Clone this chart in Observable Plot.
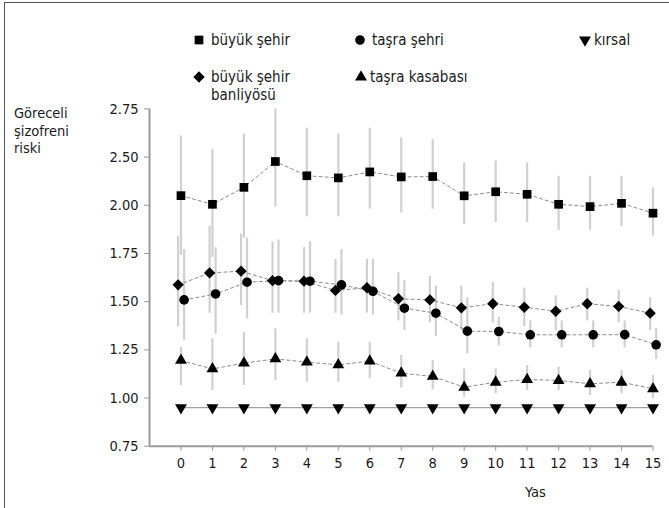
<!DOCTYPE html>
<html>
<head>
<meta charset="utf-8">
<script src="https://cdn.jsdelivr.net/npm/d3@7"></script>
<script src="https://cdn.jsdelivr.net/npm/@observablehq/plot@0.6"></script>
<style>
  body { margin: 0; background: #fff; }
  #wrap { position: relative; width: 669px; height: 508px; overflow: hidden; background: #fff;
          font-family: "Liberation Sans Narrow", "DejaVu Sans Condensed", "Roboto", sans-serif; color: #1a1a1a; }
  #frame { position: absolute; left: 4px; top: 2px; width: 700px; height: 600px;
           border-left: 1.5px solid #555; border-top: 1.5px solid #555; pointer-events: none; }
  #chart { position: absolute; left: 0; top: 0; }
  .lg { position: absolute; font-size: 15px; line-height: 18px; display: flex; align-items: flex-start; white-space: nowrap; }
  .lg svg { flex: none; }
  #ylab { position: absolute; left: 14px; top: 105px; font-size: 14.5px; line-height: 17.5px; }
  #xlab { position: absolute; left: 525px; top: 484px; font-size: 14.5px; }
</style>
</head>
<body>
<div id="wrap">
  <div id="chart"></div>
  <div id="legend"></div>
  <div id="ylab">Göreceli<br>şizofreni<br>riski</div>
  <div id="xlab">Yas</div>
  <div id="frame"></div>
</div>
<script>
// ---- data ----
const ages = [0, 1, 2, 3, 4, 5, 6, 7, 8, 9, 10, 11, 12, 13, 14, 15];
const yTicks = [0.75, 1, 1.25, 1.5, 1.75, 2, 2.25, 2.5];
const yTickLabels = ["0.75", "1.00", "1.25", "1.50", "1.75", "2.00", "2.50", "2.75"];

const seriesNames = ["büyük şehir", "taşra şehri", "kırsal", "büyük şehir banliyösü", "taşra kasabası"];

const buyukSehir   = [2.05, 2.005, 2.093, 2.227, 2.153, 2.142, 2.173, 2.147, 2.149, 2.049, 2.07, 2.057, 2.005, 1.993, 2.01, 1.959];
const buyukSehirLo = [1.74, 1.73, 1.83, 1.99, 1.94, 1.94, 1.98, 1.96, 1.98, 1.90, 1.91, 1.91, 1.87, 1.87, 1.89, 1.84];
const buyukSehirHi = [2.36, 2.29, 2.37, 2.50, 2.40, 2.37, 2.40, 2.35, 2.34, 2.22, 2.23, 2.22, 2.15, 2.15, 2.15, 2.09];

const banliyo   = [1.587, 1.649, 1.658, 1.609, 1.606, 1.558, 1.572, 1.515, 1.509, 1.468, 1.489, 1.471, 1.45, 1.489, 1.475, 1.44];
const banliyoLo = [1.37, 1.44, 1.48, 1.44, 1.44, 1.44, 1.44, 1.40, 1.39, 1.35, 1.39, 1.37, 1.35, 1.40, 1.39, 1.35];
const banliyoHi = [1.84, 1.89, 1.85, 1.81, 1.78, 1.72, 1.72, 1.65, 1.63, 1.58, 1.60, 1.57, 1.53, 1.57, 1.56, 1.52];

const tasraSehri   = [1.509, 1.54, 1.601, 1.609, 1.606, 1.587, 1.554, 1.466, 1.44, 1.347, 1.345, 1.328, 1.328, 1.328, 1.329, 1.276];
const tasraSehriLo = [1.30, 1.33, 1.41, 1.44, 1.44, 1.43, 1.43, 1.35, 1.32, 1.23, 1.27, 1.26, 1.26, 1.26, 1.26, 1.20];
const tasraSehriHi = [1.77, 1.78, 1.83, 1.82, 1.81, 1.77, 1.72, 1.61, 1.58, 1.52, 1.42, 1.40, 1.40, 1.40, 1.40, 1.36];

const kasaba   = [1.195, 1.151, 1.181, 1.203, 1.186, 1.172, 1.191, 1.129, 1.112, 1.056, 1.082, 1.096, 1.091, 1.074, 1.082, 1.048];
const kasabaLo = [1.065, 1.039, 1.065, 1.091, 1.082, 1.082, 1.10, 1.053, 1.043, 1.004, 1.022, 1.039, 1.039, 1.013, 1.022, 0.996];
const kasabaHi = [1.264, 1.307, 1.341, 1.359, 1.307, 1.289, 1.289, 1.22, 1.195, 1.151, 1.151, 1.169, 1.16, 1.143, 1.143, 1.117];

const kirsal = [0.95, 0.95, 0.95, 0.95, 0.95, 0.95, 0.95, 0.95, 0.95, 0.95, 0.95, 0.95, 0.95, 0.95, 0.95, 0.95];

// ---- build rows ----
function rows(name, vals, lo, hi, dx) {
  return ages.map((a, i) => ({series: name, age: a, x: a + dx, value: vals[i], lo: lo ? lo[i] : null, hi: hi ? hi[i] : null}));
}
const dSq  = rows(seriesNames[0], buyukSehir, buyukSehirLo, buyukSehirHi, 0);
const dCi  = rows(seriesNames[1], tasraSehri, tasraSehriLo, tasraSehriHi, 0.1);
const dKi  = rows(seriesNames[2], kirsal, null, null, 0);
const dDi  = rows(seriesNames[3], banliyo, banliyoLo, banliyoHi, -0.09);
const dTr  = rows(seriesNames[4], kasaba, kasabaLo, kasabaHi, 0);

const triDown = {
  draw(ctx, size) {
    const y = -Math.sqrt(size / (Math.sqrt(3) * 3));
    ctx.moveTo(0, -y * 2);
    ctx.lineTo(-Math.sqrt(3) * y, y);
    ctx.lineTo(Math.sqrt(3) * y, y);
    ctx.closePath();
  }
};

const sym = {
  sq: {type: d3.symbolSquare, r: 4.9},
  ci: {type: d3.symbolCircle, r: 4.8},
  ki: {type: triDown, r: 4.4},
  di: {type: d3.symbolDiamond2, r: 5.1},
  tr: {type: d3.symbolTriangle, r: 4.4}
};

const labelMap = new Map(yTicks.map((t, i) => [t, yTickLabels[i]]));
const barColor = "#d0d0d0";
const lineColor = "#8c8c8c";
const axisColor = "#9a9a9a";

const errSeries = [dSq, dDi, dCi, dTr];

const chart = Plot.plot({
  width: 669,
  height: 508,
  marginLeft: 149,
  marginRight: 16.5,
  marginTop: 108.4,
  marginBottom: 62.3,
  style: {fontFamily: '"Liberation Sans Narrow", "DejaVu Sans Condensed", sans-serif', fontSize: "14.5px", color: "#1a1a1a", background: "transparent"},
  x: {domain: [-1, 15]},
  y: {domain: [0.75, 2.5]},
  marks: [
    ...errSeries.map(d => Plot.ruleX(d, {x: "x", y1: "lo", y2: "hi", stroke: barColor, strokeWidth: 2.2})),
    ...[dSq, dDi, dCi, dTr].map(d => Plot.line(d, {x: "x", y: "value", stroke: lineColor, strokeWidth: 1, strokeDasharray: "3,3"})),
    Plot.line(dKi, {x: "x", y: "value", stroke: "#a0a0a0", strokeWidth: 1.2}),
    Plot.ruleX([-1], {y1: 0.75, y2: 2.5, stroke: axisColor, strokeWidth: 2}),
    Plot.ruleY([0.75], {x1: -1, x2: 15, stroke: axisColor, strokeWidth: 2}),
    Plot.axisY({ticks: yTicks, tickFormat: d => labelMap.get(d), tickSize: 5, tickPadding: 6, stroke: axisColor, label: null, fill: "#1a1a1a"}),
    Plot.axisX({ticks: ages, tickFormat: d => String(d), tickSize: 5, tickPadding: 7, stroke: axisColor, label: null, fill: "#1a1a1a"}),
    Plot.dot(dSq, {x: "x", y: "value", symbol: sym.sq.type, r: sym.sq.r, fill: "#000", stroke: "none"}),
    Plot.dot(dDi, {x: "x", y: "value", symbol: sym.di.type, r: sym.di.r, fill: "#000", stroke: "none"}),
    Plot.dot(dCi, {x: "x", y: "value", symbol: sym.ci.type, r: sym.ci.r, fill: "#000", stroke: "none"}),
    Plot.dot(dTr, {x: "x", y: "value", symbol: sym.tr.type, r: sym.tr.r, fill: "#000", stroke: "none"}),
    Plot.dot(dKi, {x: "x", y: "value", symbol: sym.ki.type, r: sym.ki.r, fill: "#000", stroke: "none"})
  ]
});
document.getElementById("chart").appendChild(chart);

// ---- legend (HTML) ----
const legendItems = [
  {key: "sq", left: 191, top: 31, lines: [seriesNames[0]]},
  {key: "ci", left: 352, top: 31, lines: [seriesNames[1]]},
  {key: "ki", left: 577, top: 31, lines: [seriesNames[2]]},
  {key: "di", left: 191, top: 68, lines: ["büyük şehir", "banliyösü"]},
  {key: "tr", left: 353, top: 68, lines: [seriesNames[4]]}
];
const lg = document.getElementById("legend");
for (const it of legendItems) {
  const div = document.createElement("div");
  div.className = "lg";
  div.style.left = it.left + "px";
  div.style.top = it.top + "px";
  const s = sym[it.key];
  const path = d3.symbol(s.type, Math.PI * s.r * s.r)();
  const svg = `<svg width="16" height="18" viewBox="-8 -9 16 18"><path d="${path}" fill="#000"/></svg>`;
  div.innerHTML = svg + `<span style="margin-left:${it.key === "ki" || it.key === "tr" ? 1 : 4}px">${it.lines.join("<br>")}</span>`;
  lg.appendChild(div);
}
</script>
</body>
</html>
